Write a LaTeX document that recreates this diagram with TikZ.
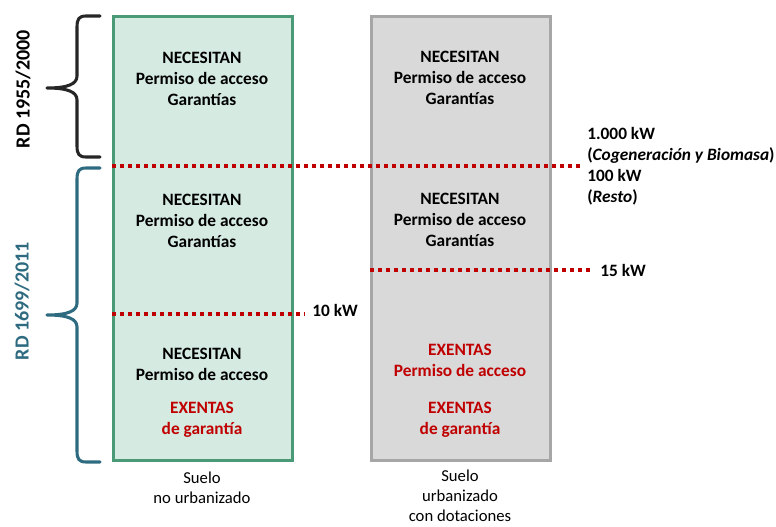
\documentclass[tikz,border=0pt]{standalone}
\usepackage{fontspec}
\setmainfont{Carlito}
\definecolor{boxgreen}{HTML}{D5EBE2}
\definecolor{edgegreen}{HTML}{4A9A78}
\definecolor{boxgray}{HTML}{D9D9D9}
\definecolor{edgegray}{HTML}{A6A6A6}
\definecolor{redtxt}{HTML}{C00000}
\definecolor{tealc}{HTML}{2E6B80}
\definecolor{bracek}{HTML}{262626}
\begin{document}
\begin{tikzpicture}[x=0.75pt,y=-0.75pt,
  body/.style={font=\fontsize{13}{15.75}\selectfont\bfseries, align=center, inner sep=0pt, anchor=base},
  redbody/.style={body, text=redtxt},
  side/.style={font=\fontsize{13}{15.75}\selectfont\bfseries, align=left, inner sep=0pt, anchor=base west},
  foot/.style={font=\fontsize{12.5}{15}\selectfont, align=center, inner sep=0pt, anchor=base},
  rdlab/.style={font=\fontsize{15}{18}\selectfont\bfseries, rotate=90, inner sep=0pt},
  limit/.style={draw=redtxt, line width=2.6pt, dash pattern=on 3pt off 3pt},
  bracestyle/.style={line width=2.3pt, line cap=round, line join=round}
]
\useasboundingbox (0,0) rectangle (776,526);

% columns
\node[draw=edgegreen, fill=boxgreen, line width=2.3pt, minimum width=134.25pt, minimum height=333pt, inner sep=0pt, anchor=north west] (green) at (112,15) {};
\node[draw=edgegray, fill=boxgray, line width=2.3pt, minimum width=134.25pt, minimum height=333pt, inner sep=0pt, anchor=north west] (gray) at (370,15) {};

% limit coordinates
\coordinate (l1a) at (112,166); \coordinate (l1b) at (580,166);
\coordinate (l2a) at (112,314); \coordinate (l2b) at (305,314);
\coordinate (l3a) at (370,270); \coordinate (l3b) at (593,270);
\draw[limit] (l1a) -- (l1b);
\draw[limit] (l2a) -- (l2b);
\draw[limit] (l3a) -- (l3b);

% green column texts (y = baseline of last line)
\node[body] (g1) at (202,105) {NECESITAN\\Permiso de acceso\\Garantías};
\node[body] (g2) at (202,247) {NECESITAN\\Permiso de acceso\\Garantías};
\node[body] (g3) at (202,380) {NECESITAN\\Permiso de acceso};
\node[redbody] (g4) at (202,434) {EXENTAS\\de garantía};

% gray column texts
\node[body] (h1) at (460,104) {NECESITAN\\Permiso de acceso\\Garantías};
\node[body] (h2) at (460,246) {NECESITAN\\Permiso de acceso\\Garantías};
\node[redbody] (h3) at (460,376) {EXENTAS\\Permiso de acceso};
\node[redbody] (h4) at (460,434) {EXENTAS\\de garantía};

% side labels
\node[side] (s1) at (587,202) {1.000 kW\\(\textit{Cogeneración y Biomasa})\\100 kW\\(\textit{Resto})};
\node[side] (s2) at (600,276) {15 kW};
\node[side] (s3) at (312,316) {10 kW};

% footers
\node[foot] (f1) at (202,503) {Suelo\\no urbanizado};
\node[foot] (f2) at (460,521) {Suelo\\urbanizado\\con dotaciones};

% braces
\draw[bracestyle, draw=bracek] (100,16) -- (86,16) .. controls (79,16) and (77,19) .. (77,27)
  -- (77,76) .. controls (77,84) and (68,88) .. (47,88)
  .. controls (68,88) and (77,92) .. (77,100)
  -- (77,146) .. controls (77,154) and (79,157) .. (86,157) -- (100,157);
\draw[bracestyle, draw=tealc] (100,168) -- (86,168) .. controls (79,168) and (77,171) .. (77,179)
  -- (77,303) .. controls (77,311) and (68,315) .. (47,315)
  .. controls (68,315) and (77,319) .. (77,327)
  -- (77,451) .. controls (77,459) and (79,462) .. (86,462) -- (100,462);

% RD labels
\node[rdlab, text=black] (rd1) at (23,89) {RD 1955/2000};
\node[rdlab, text=tealc] (rd2) at (22,301) {RD 1699/2011};
\end{tikzpicture}
\end{document}
